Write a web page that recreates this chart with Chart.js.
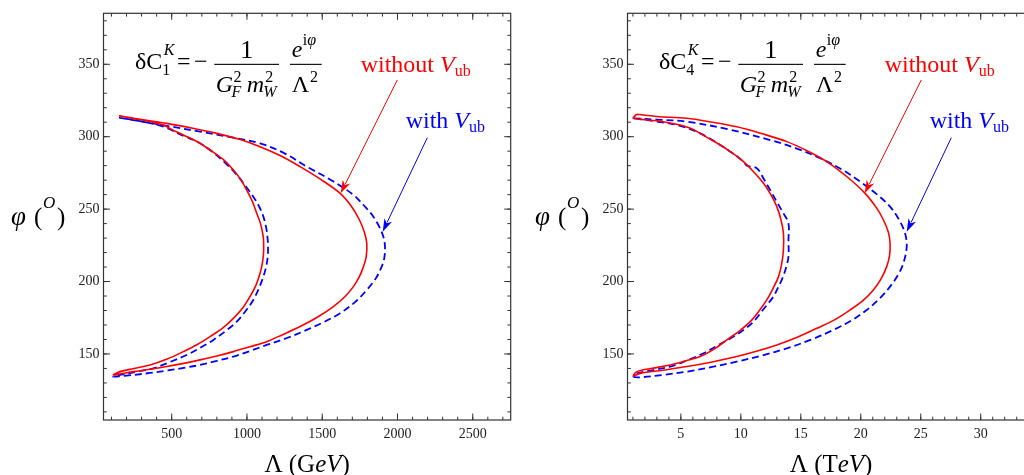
<!DOCTYPE html>
<html>
<head>
<meta charset="utf-8">
<script src="https://cdn.jsdelivr.net/npm/chart.js@4.4.0/dist/chart.umd.min.js"></script>
<style>
  html, body { margin: 0; padding: 0; background: #fff; overflow: hidden; width: 1024px; height: 475px; }
  .panel { position: absolute; top: 0; width: 520px; height: 475px; }
  #left { left: 0; }
  #right { left: 524px; }
</style>
</head>
<body>
<div class="panel" id="left"><canvas id="gevChart"></canvas></div>
<div class="panel" id="right"><canvas id="tevChart"></canvas></div>
<script>
// tick labels
const gevTicks = [500, 1000, 1500, 2000, 2500];
const tevTicks = [5, 10, 15, 20, 25, 30];
const phiTicks = [150, 200, 250, 300, 350];

// left panel: delta C1, Lambda in GeV  [Lambda, phi]
const gevWithoutVub = [
    [150, 314.5], [300, 311.8], [467, 309.2], [640, 305.8], [799, 302.3], [950, 298.2], [1087, 293.1],
    [1230, 286.5], [1353, 279.3], [1490, 270.5], [1619, 260.9], [1690, 252.5], [1745, 243], [1780, 234],
    [1796, 226.4], [1792, 217], [1774, 210.3], [1745, 203], [1707, 196.5], [1650, 189.5], [1574, 182.7],
    [1470, 175.5], [1353, 168.9], [1240, 163.5], [1131, 158.5], [1020, 155], [910, 151.6], [800, 148.6],
    [688, 145.9], [580, 143.5], [467, 141.3], [356, 139.4], [245, 137.8], [160, 136.3], [112, 135.5],
    [157, 137.8], [250, 140], [356, 142.4], [470, 146.5], [577, 151.6], [670, 156.5], [755, 162],
    [840, 168], [910, 174.6], [970, 181.5], [1020, 189.6], [1060, 197.5], [1087, 205.7], [1103, 213],
    [1110, 219.5], [1111, 225], [1108, 231], [1090, 240], [1065, 247.1], [1035, 255.5], [998, 263.2],
    [958, 270.5], [910, 277], [840, 284.5], [755, 290.8], [670, 296.5], [577, 301.2], [500, 305],
    [445, 308.1], [350, 310.5], [250, 312.5], [150, 314.5]
];
const gevWithVub = [
    [150, 313.2], [300, 310.5], [467, 307.5], [688, 303.5], [900, 299.5], [1087, 295.4], [1250, 288.5],
    [1397, 279.3], [1560, 270], [1707, 259.8], [1790, 251], [1840, 244.8], [1880, 237.5], [1906, 231],
    [1917, 224.1], [1912, 216], [1895, 210.3], [1855, 202], [1796, 194.2], [1720, 186], [1619, 178.1],
    [1510, 172], [1397, 166.6], [1265, 161], [1131, 156.2], [1020, 152], [910, 148.2], [800, 145.2],
    [688, 142.4], [580, 140.4], [467, 138.5], [356, 136.9], [245, 135.5], [112, 134.3],
    [157, 135.5], [270, 137.8], [378, 140.1], [490, 144.5], [600, 149.3], [690, 154.3], [777, 159.7],
    [860, 166], [932, 172.3], [990, 179.5], [1042, 187.3], [1080, 195.5], [1109, 203.4], [1128, 210.5],
    [1138, 217.2], [1140, 223], [1138, 228.7], [1128, 237], [1109, 244.8], [1080, 252], [1042, 258.6],
    [990, 266], [930, 274], [860, 281.5], [770, 289.5], [680, 296], [580, 300.5], [445, 306.9],
    [300, 310.5], [150, 313.2]
];

// right panel: delta C4, Lambda in TeV
const tevWithoutVub = [
    [1.3, 315.5], [3, 314], [5.5, 312.7], [7.5, 310.2], [9.66, 306.9], [11.8, 302], [13.83, 296.6],
    [15.6, 290], [17.16, 282.8], [18.9, 272], [20.36, 260.9], [21.3, 251], [21.89, 242.5], [22.3, 234],
    [22.44, 226.4], [22.4, 218], [22.16, 210.3], [21.7, 202], [21.05, 194.2], [20.2, 187], [19.11, 180.4],
    [17.8, 173.5], [16.33, 167.7], [14.7, 161.5], [13, 156.2], [11.3, 151.8], [9.66, 148.2], [7.6, 144.5],
    [5.5, 141.3], [3.5, 138.8], [1.61, 136.6], [1.05, 134.8],
    [1.33, 137.8], [2.7, 140.2], [4.11, 142.4], [5.4, 145.2], [6.61, 148.2], [7.8, 153.5], [8.83, 159.7],
    [9.9, 166], [10.78, 172.3], [11.5, 179.5], [12.16, 187.3], [12.7, 195.5], [13.14, 203.4], [13.4, 212],
    [13.55, 221.8], [13.55, 233.3], [13.35, 242.5], [13, 251.7], [12.5, 260], [11.89, 267.8], [11.1, 275.5],
    [10.22, 282.8], [9.3, 288.7], [8.28, 294.3], [7.4, 298.5], [6.61, 302.3], [5.8, 305.8], [4.94, 308.1],
    [3, 311], [1.05, 312.7], [1.3, 315.5]
];
const tevWithVub = [
    [1.05, 312.7], [3, 311.8], [5.5, 310.4], [9, 305], [12.44, 297.7], [14.6, 292], [16.61, 285.1],
    [18.4, 277.5], [19.94, 269], [21.3, 260.5], [22.44, 251.7], [23.2, 242.5], [23.69, 233.3], [23.83, 224.1],
    [23.55, 212.6], [23.1, 204.5], [22.44, 196.5], [21.6, 188.5], [20.5, 180.4], [19.2, 173], [17.72, 166.6],
    [15.8, 159.7], [13.83, 153.9], [11.8, 149], [9.66, 144.7], [7.6, 141], [5.5, 137.8], [3.5, 135.5],
    [1.61, 133.9], [1.05, 134.3],
    [1.33, 136.6], [2.7, 138.8], [4.11, 141.3], [5.5, 145.5], [6.89, 150.5], [8.2, 156.5], [9.39, 162],
    [10.3, 167], [11.05, 172.3], [11.9, 181], [12.72, 189.6], [13.05, 195], [13.41, 201.1], [13.75, 209],
    [13.97, 217.2], [13.97, 228.7], [13.97, 240.2], [13.55, 247.1], [13, 255], [12.44, 263.2], [11.9, 271],
    [11.33, 278.2], [10.5, 280], [10.22, 282.8], [9.3, 288.7], [8.28, 294.3], [6.61, 302.3], [4.94, 307.5],
    [3, 310.5], [1.05, 312.7]
];

const serif = '"Liberation Serif", "Times New Roman", serif';
const RED = '#ff0000';
const BLUE = '#0000ff';

const toPoints = (pairs) => pairs.map(([x, y]) => ({ x, y }));

// frame box with inward major + minor ticks on all four sides (Mathematica style)
const frameTicks = {
    id: 'frameTicks',
    afterDatasetsDraw(chart, args, opts) {
        const { ctx, chartArea: a, scales: { x, y } } = chart;
        ctx.save();
        ctx.strokeStyle = '#333';
        ctx.lineWidth = 1;
        ctx.beginPath();
        const xTick = (v, len) => {
            const p = x.getPixelForValue(v);
            ctx.moveTo(p, a.bottom); ctx.lineTo(p, a.bottom - len);
            ctx.moveTo(p, a.top); ctx.lineTo(p, a.top + len);
        };
        const yTick = (v, len) => {
            const p = y.getPixelForValue(v);
            ctx.moveTo(a.left, p); ctx.lineTo(a.left + len, p);
            ctx.moveTo(a.right, p); ctx.lineTo(a.right - len, p);
        };
        const first = (min, step) => Math.ceil(min / step) * step;
        for (let v = first(x.min, opts.xMinor); v <= x.max; v += opts.xMinor) xTick(v, 3.3);
        for (let v = first(y.min, 10); v <= y.max; v += 10) yTick(v, 3.3);
        opts.xMajor.forEach((v) => xTick(v, 6.5));
        phiTicks.forEach((v) => yTick(v, 6.5));
        ctx.stroke();
        ctx.lineWidth = 1.2;
        ctx.strokeRect(a.left, a.top, a.right - a.left, a.bottom - a.top);
        ctx.restore();
    },
};

const drawArrow = (ctx, x0, y0, x1, y1, color) => {
    const ang = Math.atan2(y1 - y0, x1 - x0);
    const len = 13, half = 4.2;
    ctx.strokeStyle = color;
    ctx.fillStyle = color;
    ctx.lineWidth = 1;
    ctx.beginPath();
    ctx.moveTo(x0, y0);
    ctx.lineTo(x1 - Math.cos(ang) * len * 0.8, y1 - Math.sin(ang) * len * 0.8);
    ctx.stroke();
    ctx.beginPath();
    ctx.moveTo(x1, y1);
    ctx.lineTo(x1 - Math.cos(ang) * len - Math.sin(ang) * half, y1 - Math.sin(ang) * len + Math.cos(ang) * half);
    ctx.lineTo(x1 - Math.cos(ang) * len * 0.72, y1 - Math.sin(ang) * len * 0.72);
    ctx.lineTo(x1 - Math.cos(ang) * len + Math.sin(ang) * half, y1 - Math.sin(ang) * len - Math.cos(ang) * half);
    ctx.closePath();
    ctx.fill();
};

const labelVub = (ctx, word, x, y, color) => {
    ctx.fillStyle = color;
    ctx.font = `24px ${serif}`;
    ctx.fillText(word, x, y);
    x += ctx.measureText(word).width;
    ctx.font = `italic 24px ${serif}`;
    ctx.fillText('V', x, y);
    x += ctx.measureText('V').width;
    ctx.font = `16px ${serif}`;
    ctx.fillText('ub', x, y + 4);
};

// formula, curve labels, arrows and axis titles
const annotations = {
    id: 'annotations',
    afterDraw(chart, args, opts) {
        const { ctx, chartArea: a } = chart;
        const L = a.left, T = a.top;
        const width = (t, f) => { ctx.font = f; return ctx.measureText(t).width; };
        ctx.save();
        ctx.textAlign = 'left';
        ctx.textBaseline = 'alphabetic';
        ctx.fillStyle = '#000';

        // delta C formula
        const big = `24px ${serif}`, bigI = `italic 24px ${serif}`;
        const sm = `16px ${serif}`, smI = `italic 16px ${serif}`;
        let x = L + 31.5;
        const yb = T + 55.7;
        ctx.font = big;
        ctx.fillText('δC', x, yb);
        x += width('δC', big);
        ctx.font = smI; ctx.fillText('K', x + 1.5, yb - 14);
        ctx.font = sm; ctx.fillText(opts.index, x, yb + 6);
        ctx.font = big; ctx.fillText('=', L + 73.5, yb);
        ctx.fillText('−', L + 90.5, yb);
        ctx.fillRect(L + 110.8, T + 50.5, 64.7, 1.1);
        ctx.font = `26px ${serif}`;
        ctx.textAlign = 'center';
        ctx.fillText('1', L + 143.2, T + 45);
        ctx.textAlign = 'left';

        const yd = T + 78.4;
        x = L + 112.2;
        ctx.font = bigI; ctx.fillText('G', x, yd);
        x += width('G', bigI);
        ctx.font = sm; ctx.fillText('2', x + 0.5, yd - 10);
        ctx.font = smI; ctx.fillText('F', x - 1.5, yd + 5);
        x += Math.max(width('2', sm), width('F', smI)) + 4;
        ctx.font = bigI; ctx.fillText('m', x, yd);
        x += width('m', bigI);
        ctx.font = sm; ctx.fillText('2', x + 1, yd - 10);
        ctx.font = smI; ctx.fillText('W', x - 1, yd + 5);

        ctx.fillRect(L + 186.5, T + 50.5, 31.7, 1.1);
        x = L + 188.2;
        ctx.font = bigI; ctx.fillText('e', x, T + 43.4);
        x += width('e', bigI) + 0.5;
        ctx.font = sm; ctx.fillText('i', x, T + 32);
        x += width('i', sm);
        ctx.font = smI; ctx.fillText('φ', x, T + 32);
        x = L + 188.2;
        ctx.font = big; ctx.fillText('Λ', x, yd);
        x += width('Λ', big) + 1;
        ctx.font = sm; ctx.fillText('2', x, yd - 10);

        // curve labels and arrows
        labelVub(ctx, 'without ', L + 257.2, T + 58.4, RED);
        labelVub(ctx, 'with ', L + 302.2, T + 115, BLUE);
        drawArrow(ctx, L + 293.8, T + 66.7, L + 237.2, T + 180, RED);
        drawArrow(ctx, L + 323.8, T + 124.4, L + 279.2, T + 218.4, BLUE);

        // y axis title: phi (O)
        ctx.fillStyle = '#000';
        ctx.font = `italic 27px ${serif}`;
        ctx.fillText('φ', L - 92.5, T + 211.7);
        ctx.font = `25px ${serif}`;
        ctx.fillText('(', L - 69.5, T + 211.7);
        ctx.font = `italic 17px ${serif}`;
        ctx.fillText('O', L - 60.5, T + 195);
        ctx.font = `25px ${serif}`;
        ctx.fillText(')', L - 46.5, T + 211.7);

        // x axis title: Lambda (GeV) / (TeV), unit letters after the first in italic
        const runs = [['Λ (' + opts.unit[0], `25px ${serif}`], [opts.unit.slice(1), `italic 25px ${serif}`], [')', `25px ${serif}`]];
        let w = 0;
        runs.forEach(([t, f]) => { w += width(t, f); });
        x = (a.left + a.right) / 2 - w / 2;
        runs.forEach(([t, f]) => { ctx.font = f; ctx.fillText(t, x, a.bottom + 51.7); x += ctx.measureText(t).width; });
        ctx.restore();
    },
};

const makeChart = (canvasId, withoutVub, withVub, xMin, xMax, xTicks, xMinor, index, unit) => {
    const canvas = document.getElementById(canvasId);
    return new Chart(canvas, {
        type: 'scatter',
        data: {
            datasets: [
                {
                    data: toPoints(withoutVub),
                    showLine: true,
                    borderColor: RED,
                    borderWidth: 1.6,
                    pointRadius: 0,
                    tension: 0.35,
                },
                {
                    data: toPoints(withVub),
                    showLine: true,
                    borderColor: BLUE,
                    borderWidth: 1.8,
                    borderDash: [7, 4],
                    pointRadius: 0,
                    tension: 0.35,
                },
            ],
        },
        options: {
            responsive: true,
            maintainAspectRatio: false,
            animation: false,
            layout: { padding: { top: 13.3, right: 9.3, left: 0, bottom: 0 } },
            plugins: {
                legend: { display: false },
                tooltip: { enabled: false },
                frameTicks: { xMajor: xTicks, xMinor },
                annotations: { index, unit },
            },
            scales: {
                x: {
                    type: 'linear',
                    min: xMin,
                    max: xMax,
                    afterBuildTicks: (scale) => { scale.ticks = xTicks.map((value) => ({ value })); },
                    afterFit: (scale) => { scale.height = 55; },
                    grid: { display: false, drawTicks: false },
                    border: { display: false },
                    ticks: {
                        color: '#222',
                        padding: 6,
                        maxRotation: 0,
                        font: { family: serif, size: 14 },
                        callback: (value) => String(value),
                    },
                },
                y: {
                    type: 'linear',
                    min: 104.4,
                    max: 385.2,
                    afterBuildTicks: (scale) => { scale.ticks = phiTicks.map((value) => ({ value })); },
                    afterFit: (scale) => { scale.width = 103.5; },
                    grid: { display: false, drawTicks: false },
                    border: { display: false },
                    ticks: {
                        color: '#222',
                        padding: 4,
                        font: { family: serif, size: 14 },
                        callback: (value) => String(value),
                    },
                },
            },
        },
        plugins: [frameTicks, annotations],
    });
};

document.addEventListener('DOMContentLoaded', () => {
    makeChart('gevChart', gevWithoutVub, gevWithVub, 47, 2752, gevTicks, 100, '1', 'GeV');
    makeChart('tevChart', tevWithoutVub, tevWithVub, 0.55, 34.5, tevTicks, 1, '4', 'TeV');
});
</script>
</body>
</html>
